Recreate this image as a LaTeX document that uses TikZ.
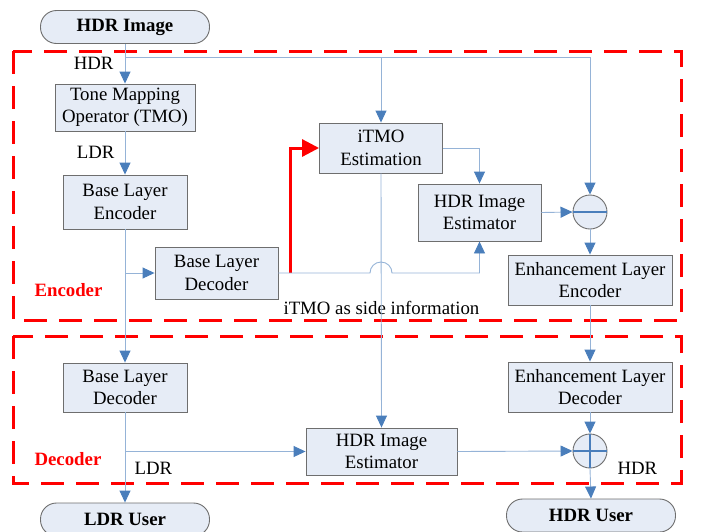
\documentclass[tikz,border=0pt]{standalone}
\usepackage{fontspec}
\setmainfont{Liberation Serif}
\usetikzlibrary{arrows.meta,calc}

\definecolor{boxfill}{RGB}{230,236,246}
\definecolor{boxline}{RGB}{110,110,110}
\definecolor{wire}{RGB}{149,179,215}
\definecolor{tipblue}{RGB}{74,126,187}

\begin{document}
\begin{tikzpicture}[x=1pt,y=-1pt,
		font=\fontsize{18.8}{22.5}\selectfont,
		block/.style={draw=boxline,fill=boxfill,line width=0.9pt,align=center,inner sep=0pt},
		pill/.style={block,rounded corners=16pt,minimum width=169pt,minimum height=33pt,font=\fontsize{18.8}{22.5}\selectfont\bfseries},
		sum/.style={circle,draw=boxline,fill=boxfill,line width=0.9pt,minimum size=34pt,inner sep=0pt},
		link/.style={draw=wire,line width=0.9pt},
		flow/.style={link,-{Triangle[width=11pt,length=12pt,fill=tipblue,color=tipblue]}},
		sideinfo/.style={draw=red,line width=3pt,-{Triangle[width=17pt,length=17pt]}},
		stage/.style={draw=red,line width=3pt,dash pattern=on 23pt off 12pt},
		sign/.style={draw=tipblue,line width=2pt}]
		\useasboundingbox (0,0) rectangle (702,531);
		% encoder and decoder regions
		\draw[stage](13,51) rectangle (681,320);
		\draw[stage](13,336) rectangle (681,483);
		\node at (31,290) [anchor=west,text=red,font=\fontsize{18.8}{22.5}\selectfont\bfseries]{Encoder};
		\node at (31,459) [anchor=west,text=red,font=\fontsize{18.8}{22.5}\selectfont\bfseries]{Decoder};
		% blocks
		\node (hdrimg) at (125,27) [pill]{HDR Image};
		\node (tmo) at (125,107.5) [block,minimum width=140pt,minimum height=47pt]{Tone Mapping\\Operator (TMO)};
		\node (ble) at (125,202) [block,minimum width=124pt,minimum height=54pt]{Base Layer\\Encoder};
		\node (bld) at (216.5,273) [block,minimum width=123pt,minimum height=52pt]{Base Layer\\Decoder};
		\node (itmo) at (381,148) [block,minimum width=123pt,minimum height=50pt]{iTMO\\Estimation};
		\node (hei) at (479.5,212.5) [block,minimum width=123pt,minimum height=57pt]{HDR Image\\Estimator};
		\node (minus) at (590,212) [sum]{};
		\node (ele) at (590,280) [block,minimum width=164pt,minimum height=50pt]{Enhancement Layer\\Encoder};
		\node (dbld) at (125,387.5) [block,minimum width=124pt,minimum height=49pt]{Base Layer\\Decoder};
		\node (eld) at (590,387) [block,minimum width=164pt,minimum height=50pt]{Enhancement Layer\\Decoder};
		\node (dhei) at (381.5,451.5) [block,minimum width=151pt,minimum height=47pt]{HDR Image\\Estimator};
		\node (plus) at (590,451) [sum]{};
		\node (ldruser) at (125,519.5) [pill]{LDR User};
		\node (hdruser) at (591,515.5) [pill]{HDR User};
		\draw[sign](minus.west)--(minus.east);
		\draw[sign](plus.west)--(plus.east);
		\draw[sign](plus.north)--(plus.south);
		% labels
		\node (lhdr) at (117,63) [anchor=east]{HDR};
		\node (lldr) at (118,152) [anchor=east]{LDR};
		\node (side) at (280,308) [anchor=west]{iTMO as side information};
		\node (lldr2) at (131,468) [anchor=west]{LDR};
		\node (lhdr2) at (614,468) [anchor=west]{HDR};
		% connectors
		\coordinate (bus) at (125,57);
		\coordinate (turn) at (290,273);
		\draw[flow](hdrimg.south)--(tmo.north);
		\draw[flow](bus)-|(minus.north);
		\draw[flow](itmo.north |- bus)--(itmo.north);
		\draw[flow](tmo.south)--(ble.north);
		\draw[flow](ble.south)--(dbld.north);
		\draw[flow](ble.south |- bld.west)--(bld.west);
		\draw[sideinfo](turn)|-(itmo.west);
		\draw[flow](bld.east)--($(itmo.south |- bld.east)+(-11,0)$) arc[start angle=180,end angle=0,radius=11pt] -|(hei.south);
		\draw[flow](itmo.east)-|(hei.north);
		\draw[flow](itmo.south)--(dhei.north);
		\draw[flow](hei.east)--(minus.west);
		\draw[flow](minus.south)--(ele.north);
		\draw[flow](ele.south)--(eld.north);
		\draw[flow](eld.south)--(plus.north);
		\draw[flow](dhei.east)--(plus.west);
		\draw[flow](plus.south)--(hdruser.north);
		\draw[flow](dbld.south)--(ldruser.north);
		\draw[flow](dbld.south |- dhei.west)--(dhei.west);
	\end{tikzpicture}
\end{document}
